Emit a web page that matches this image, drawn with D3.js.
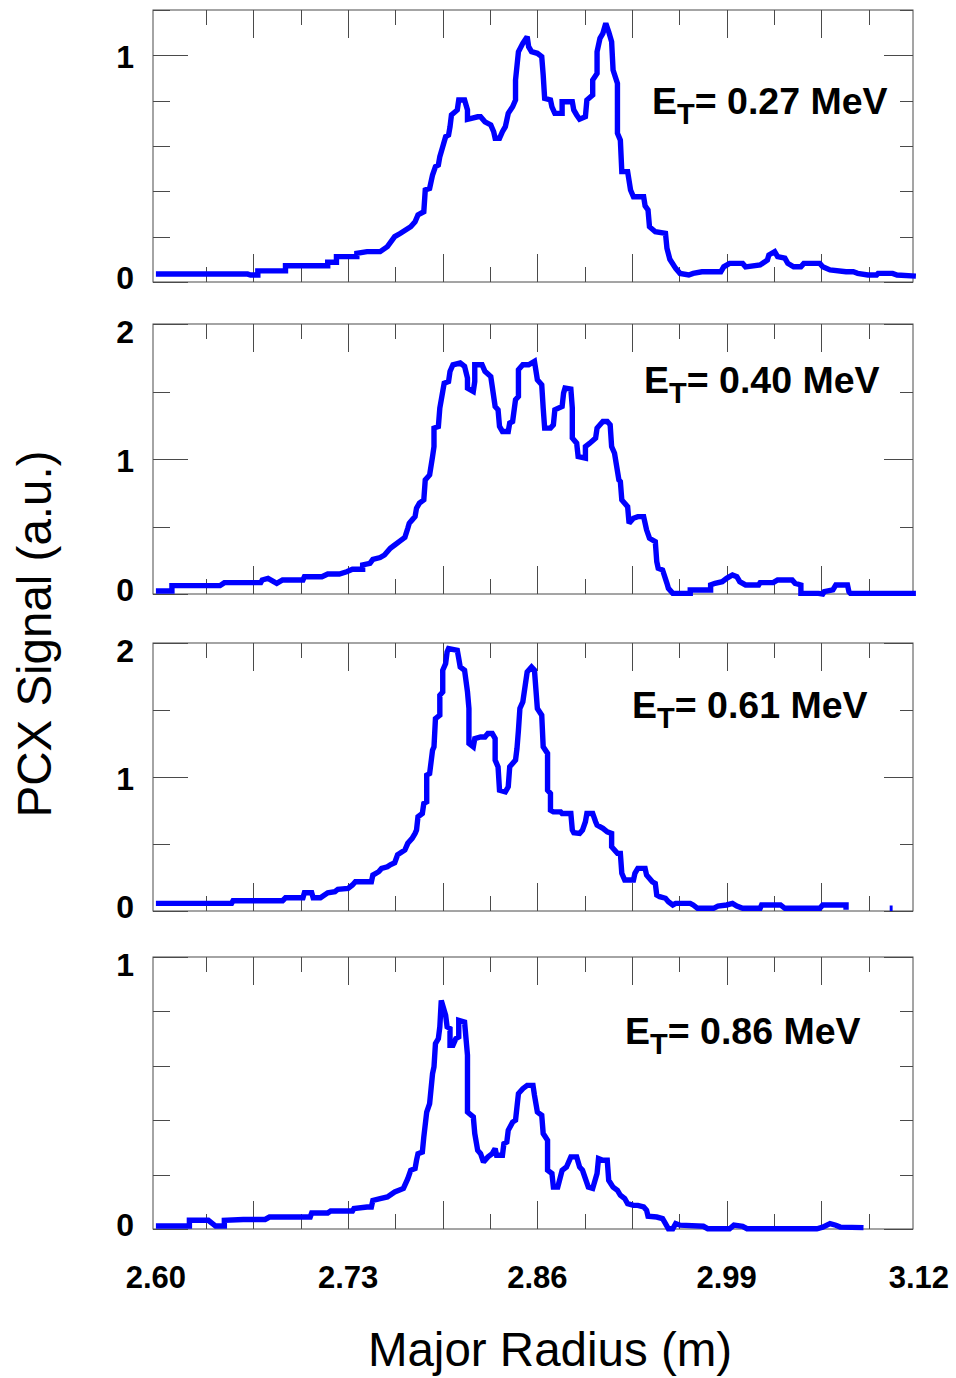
<!DOCTYPE html>
<html><head><meta charset="utf-8">
<script src="https://cdn.jsdelivr.net/npm/d3@7"></script>
<style>body{margin:0;background:#fff}svg{display:block}</style>
</head><body>
<svg id="chart" width="956" height="1378"></svg>
<script>
// ---------- DATA ----------
const radius1 = [2.598,2.661,2.663,2.668,2.668,2.687,2.687,2.716,2.716,2.722,2.722,2.736,2.736,2.743,2.752,2.757,2.762,2.766,2.773,2.776,2.778,2.782,2.783,2.786,2.788,2.790,2.792,2.793,2.795,2.797,2.799,2.800,2.801,2.805,2.806,2.810,2.812,2.812,2.819,2.821,2.824,2.828,2.830,2.831,2.834,2.836,2.838,2.840,2.843,2.845,2.845,2.847,2.850,2.853,2.854,2.856,2.860,2.863,2.864,2.865,2.869,2.870,2.872,2.877,2.877,2.884,2.885,2.887,2.889,2.893,2.894,2.898,2.898,2.901,2.901,2.903,2.905,2.907,2.909,2.911,2.912,2.915,2.915,2.917,2.918,2.922,2.924,2.926,2.933,2.934,2.936,2.937,2.941,2.948,2.949,2.951,2.955,2.958,2.964,2.967,2.973,2.986,2.988,2.992,3.001,3.003,3.013,3.018,3.019,3.023,3.025,3.030,3.032,3.036,3.041,3.043,3.054,3.056,3.061,3.072,3.077,3.080,3.087,3.093,3.094,3.104,3.107,3.120];
const signal1 = [0.035,0.035,0.031,0.031,0.049,0.049,0.072,0.072,0.087,0.087,0.112,0.112,0.127,0.134,0.134,0.156,0.200,0.215,0.244,0.266,0.296,0.310,0.406,0.413,0.472,0.509,0.516,0.553,0.597,0.641,0.648,0.685,0.737,0.759,0.803,0.803,0.759,0.718,0.729,0.729,0.707,0.693,0.663,0.634,0.634,0.663,0.685,0.744,0.773,0.803,0.891,1.016,1.053,1.082,1.038,1.016,1.009,0.994,0.913,0.810,0.803,0.773,0.744,0.744,0.795,0.795,0.759,0.737,0.718,0.729,0.803,0.825,0.891,0.920,1.016,1.075,1.097,1.141,1.104,1.060,0.935,0.876,0.656,0.626,0.487,0.487,0.406,0.376,0.376,0.336,0.318,0.244,0.222,0.215,0.149,0.100,0.060,0.038,0.031,0.038,0.045,0.045,0.067,0.082,0.082,0.067,0.075,0.097,0.119,0.134,0.112,0.105,0.082,0.067,0.067,0.082,0.082,0.067,0.053,0.045,0.045,0.038,0.031,0.031,0.038,0.038,0.031,0.026];

const radius2 = [2.598,2.609,2.609,2.642,2.645,2.670,2.671,2.675,2.681,2.685,2.699,2.700,2.712,2.716,2.724,2.729,2.733,2.740,2.740,2.745,2.747,2.752,2.755,2.759,2.762,2.766,2.769,2.771,2.772,2.774,2.776,2.777,2.779,2.782,2.783,2.786,2.788,2.789,2.789,2.792,2.793,2.795,2.796,2.799,2.800,2.802,2.807,2.810,2.812,2.812,2.816,2.817,2.817,2.822,2.824,2.828,2.829,2.831,2.833,2.834,2.836,2.840,2.841,2.843,2.845,2.847,2.847,2.850,2.854,2.858,2.860,2.863,2.864,2.865,2.869,2.871,2.872,2.877,2.878,2.879,2.883,2.884,2.884,2.887,2.888,2.893,2.893,2.896,2.900,2.901,2.905,2.908,2.910,2.911,2.913,2.916,2.917,2.918,2.922,2.923,2.926,2.929,2.933,2.935,2.937,2.941,2.942,2.943,2.946,2.949,2.950,2.953,2.965,2.965,2.979,2.979,2.982,2.987,2.990,2.994,2.997,2.999,3.003,3.012,3.013,3.022,3.025,3.035,3.037,3.041,3.041,3.053,3.056,3.057,3.063,3.065,3.073,3.074,3.075,3.120];
const signal2 = [0.022,0.022,0.062,0.062,0.084,0.084,0.104,0.116,0.079,0.104,0.104,0.128,0.128,0.148,0.148,0.165,0.183,0.183,0.215,0.227,0.257,0.270,0.289,0.339,0.363,0.395,0.420,0.487,0.524,0.549,0.573,0.636,0.673,0.697,0.845,0.882,1.018,1.092,1.229,1.241,1.377,1.500,1.562,1.574,1.649,1.698,1.711,1.686,1.599,1.525,1.500,1.574,1.698,1.698,1.649,1.611,1.537,1.389,1.364,1.241,1.204,1.204,1.266,1.278,1.439,1.463,1.661,1.698,1.698,1.723,1.587,1.550,1.377,1.229,1.229,1.253,1.364,1.389,1.488,1.525,1.518,1.377,1.155,1.117,1.018,1.006,1.092,1.117,1.155,1.229,1.278,1.278,1.253,1.092,1.043,0.845,0.833,0.697,0.647,0.524,0.561,0.573,0.573,0.475,0.413,0.388,0.240,0.190,0.178,0.079,0.042,0.005,0.005,0.030,0.030,0.067,0.079,0.091,0.116,0.141,0.128,0.091,0.067,0.067,0.084,0.084,0.104,0.104,0.079,0.067,0.005,0.005,0.000,0.017,0.030,0.067,0.067,0.017,0.005,0.005];

const radius3 = [2.598,2.650,2.651,2.685,2.687,2.699,2.700,2.705,2.706,2.711,2.716,2.721,2.723,2.730,2.733,2.735,2.746,2.747,2.751,2.753,2.757,2.759,2.762,2.764,2.769,2.771,2.774,2.776,2.777,2.778,2.781,2.782,2.784,2.784,2.786,2.788,2.789,2.790,2.793,2.793,2.795,2.795,2.797,2.798,2.799,2.805,2.806,2.807,2.810,2.812,2.813,2.813,2.816,2.817,2.821,2.824,2.826,2.829,2.831,2.831,2.833,2.834,2.838,2.840,2.841,2.845,2.846,2.847,2.848,2.850,2.853,2.856,2.858,2.860,2.863,2.864,2.867,2.867,2.869,2.869,2.871,2.876,2.877,2.883,2.884,2.885,2.889,2.891,2.893,2.894,2.898,2.900,2.901,2.905,2.908,2.911,2.911,2.915,2.917,2.918,2.920,2.926,2.927,2.929,2.934,2.935,2.939,2.941,2.942,2.944,2.948,2.950,2.953,2.955,2.965,2.967,2.970,2.981,2.984,2.990,2.994,2.997,3.001,3.013,3.014,3.027,3.030,3.054,3.056,3.072,3.072,3.087,3.102,3.104];
const signal3 = [0.057,0.057,0.077,0.077,0.099,0.099,0.136,0.136,0.099,0.099,0.136,0.144,0.162,0.169,0.194,0.218,0.218,0.268,0.293,0.318,0.330,0.345,0.360,0.420,0.455,0.505,0.542,0.579,0.604,0.703,0.728,0.803,0.815,1.014,1.026,1.200,1.225,1.436,1.461,1.610,1.635,1.797,1.846,1.933,1.958,1.946,1.884,1.821,1.797,1.635,1.511,1.250,1.225,1.287,1.299,1.299,1.325,1.325,1.287,1.126,1.076,0.902,0.889,0.927,1.076,1.126,1.213,1.349,1.511,1.560,1.784,1.821,1.797,1.511,1.461,1.225,1.176,0.902,0.877,0.753,0.740,0.740,0.728,0.728,0.604,0.584,0.579,0.604,0.666,0.728,0.728,0.666,0.641,0.617,0.591,0.579,0.479,0.430,0.430,0.281,0.231,0.231,0.281,0.318,0.318,0.268,0.218,0.206,0.119,0.107,0.095,0.069,0.045,0.057,0.057,0.045,0.020,0.020,0.037,0.045,0.057,0.037,0.020,0.020,0.045,0.045,0.020,0.020,0.045,0.045,0.010,null,0.020,0.020];

const radius4 = [2.598,2.621,2.621,2.634,2.639,2.645,2.645,2.658,2.673,2.676,2.704,2.705,2.716,2.718,2.733,2.734,2.743,2.746,2.747,2.752,2.757,2.762,2.768,2.771,2.773,2.776,2.777,2.778,2.781,2.782,2.784,2.786,2.788,2.789,2.790,2.792,2.793,2.794,2.797,2.798,2.800,2.800,2.802,2.804,2.806,2.806,2.810,2.812,2.812,2.816,2.817,2.819,2.821,2.823,2.826,2.829,2.831,2.832,2.836,2.837,2.839,2.840,2.843,2.845,2.846,2.847,2.850,2.853,2.857,2.858,2.860,2.863,2.864,2.867,2.867,2.870,2.871,2.874,2.877,2.880,2.883,2.887,2.889,2.891,2.895,2.898,2.901,2.902,2.905,2.908,2.909,2.912,2.915,2.917,2.920,2.922,2.926,2.929,2.933,2.935,2.936,2.942,2.946,2.948,2.950,2.953,2.955,2.958,2.974,2.977,2.992,2.995,3.001,3.004,3.052,3.056,3.061,3.065,3.068,3.084];
const signal4 = [0.011,0.011,0.032,0.032,0.011,0.011,0.032,0.035,0.035,0.044,0.044,0.059,0.059,0.066,0.066,0.075,0.081,0.081,0.105,0.112,0.118,0.136,0.149,0.185,0.216,0.222,0.253,0.277,0.283,0.338,0.430,0.461,0.571,0.596,0.682,0.700,0.743,0.840,0.786,0.743,0.737,0.675,0.675,0.700,0.706,0.767,0.761,0.639,0.430,0.412,0.351,0.289,0.277,0.246,0.265,0.277,0.296,0.271,0.271,0.314,0.320,0.363,0.393,0.400,0.449,0.498,0.516,0.528,0.528,0.492,0.430,0.418,0.351,0.326,0.216,0.204,0.154,0.154,0.216,0.228,0.265,0.265,0.228,0.216,0.154,0.149,0.204,0.259,0.253,0.253,0.179,0.154,0.142,0.124,0.112,0.093,0.087,0.087,0.081,0.069,0.047,0.044,0.038,0.020,0.001,0.001,0.020,0.014,0.010,0.001,0.001,0.014,0.010,0.001,0.001,0.007,0.020,0.014,0.007,0.005];

const energies = ["0.27", "0.40", "0.61", "0.86"];
const yMaxima = [1.2, 2, 2, 1];
const yTickSteps = [0.2, 0.5, 0.5, 0.2];
const yTickLabels = [[0, 1], [0, 1, 2], [0, 1, 2], [0, 1]];
const xTickLabels = ["2.60", "2.73", "2.86", "2.99", "3.12"];
const xMinorStep = 0.0325;
const yTitle = "PCX Signal (a.u.)";
const xTitle = "Major Radius (m)";

// ---------- LAYOUT ----------
const FONT = "'Liberation Sans', Arial, Helvetica, sans-serif";
const svg = d3.select("#chart");
const left = 153, right = 913;
const panelBoxes = [[10, 282], [324, 594], [643, 911], [957, 1229]];
const annotPos = [[652, 114], [644, 393], [632, 718], [625, 1044]];
const xLabelNudge = [-3, 0, 0, 0, 3];
const frameColor = "#4a4a4a";

const x = d3.scaleLinear().domain([2.596, 3.118]).range([left, right]);
const minorTicks = d3.range(1, 16).map(k => 2.60 + k * xMinorStep);

const series = [
  d3.zip(radius1, signal1),
  d3.zip(radius2, signal2),
  d3.zip(radius3, signal3),
  d3.zip(radius4, signal4)
];

series.forEach((data, i) => {
  const [top, bottom] = panelBoxes[i];
  const y = d3.scaleLinear().domain([0, yMaxima[i]]).range([bottom, top]);
  const g = svg.append("g");

  g.append("rect").attr("x", left).attr("y", top)
    .attr("width", right - left).attr("height", bottom - top)
    .attr("fill", "none").attr("stroke", frameColor).attr("stroke-width", 1);

  minorTicks.forEach((v, k) => {
    const len = (k % 2 === 1) ? 28 : 15;
    const px = Math.round(x(v)) + 0.5;
    g.append("line").attr("x1", px).attr("x2", px).attr("y1", top).attr("y2", top + len)
      .attr("stroke", frameColor).attr("stroke-width", 1);
    g.append("line").attr("x1", px).attr("x2", px).attr("y1", bottom).attr("y2", bottom - len)
      .attr("stroke", frameColor).attr("stroke-width", 1);
  });

  const yt = d3.range(0, yMaxima[i] + 1e-9, yTickSteps[i]);
  yt.forEach(v => {
    const major = yTickLabels[i].some(m => Math.abs(m - v) < 1e-6);
    const py = Math.round(y(v)) + 0.5;
    g.append("line").attr("x1", left).attr("x2", left + (major ? 35 : 17))
      .attr("y1", py).attr("y2", py).attr("stroke", frameColor).attr("stroke-width", 1);
    g.append("line").attr("x1", right).attr("x2", right - (major ? 29 : 13))
      .attr("y1", py).attr("y2", py).attr("stroke", frameColor).attr("stroke-width", 1);
  });

  yTickLabels[i].forEach(v => {
    let cy = y(v);
    if (Math.abs(v - yMaxima[i]) < 1e-6) cy += 7;
    else if (v === 0) cy -= 5;
    else cy += 1;
    g.append("text").attr("x", 134).attr("y", cy + 11.5)
      .attr("text-anchor", "end").attr("font-family", FONT)
      .attr("font-weight", "bold").attr("font-size", 32).attr("fill", "#000")
      .text(String(v));
  });

  const line = d3.line()
    .defined(d => d[1] !== null)
    .x(d => x(d[0])).y(d => y(d[1]));
  g.append("path").datum(data).attr("d", line)
    .attr("fill", "none").attr("stroke", "#0000ff").attr("stroke-width", 5.4)
    .attr("stroke-linejoin", "miter").attr("stroke-miterlimit", 2);

  const [ax, ay] = annotPos[i];
  const t = g.append("text").attr("x", ax).attr("y", ay)
    .attr("font-family", FONT).attr("font-weight", "bold")
    .attr("font-size", 37.5).attr("fill", "#000");
  t.append("tspan").text("E");
  t.append("tspan").attr("font-size", 29).attr("dy", 10).text("T");
  t.append("tspan").attr("dy", -10).text("= " + energies[i] + " MeV");
});

xTickLabels.forEach((lbl, j) => {
  svg.append("text").attr("x", x(+lbl) + xLabelNudge[j]).attr("y", 1288)
    .attr("text-anchor", "middle").attr("font-family", FONT)
    .attr("font-weight", "bold").attr("font-size", 31).attr("fill", "#000")
    .text(lbl);
});

svg.append("text").attr("x", 550).attr("y", 1366)
  .attr("text-anchor", "middle").attr("font-family", FONT)
  .attr("font-size", 47.5).attr("fill", "#000").text(xTitle);
svg.append("text").attr("transform", "translate(51,634) rotate(-90)")
  .attr("text-anchor", "middle").attr("font-family", FONT)
  .attr("font-size", 47.5).attr("fill", "#000").text(yTitle);
</script>
</body></html>
